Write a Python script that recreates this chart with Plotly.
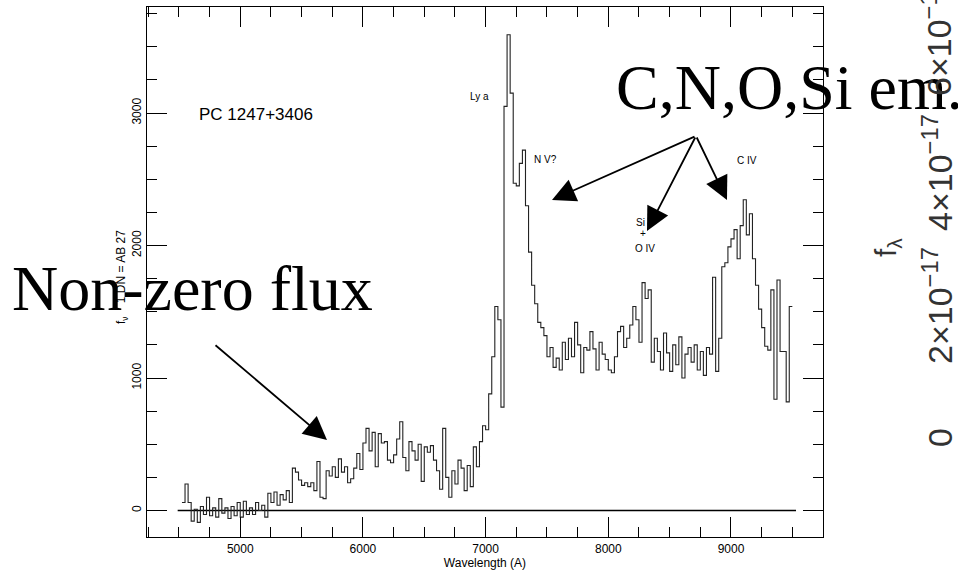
import plotly.graph_objects as go

# ---------------- data ----------------
bin_start = 4525          # left edge of first 25 A bin
bin_width = 25
flux = [
    60, 200, 60, -80, 10, -90, 30, -30, 100, -40,
    20, -50, 90, -20, 20, -60, 30, -40, 60, -50,
    70, -30, 20, -30, 60, 0, 40, -50, 130, 60,
    140, 40, 120, 80, 150, 60, 320, 290, 230, 190,
    210, 180, 210, 150, 370, 100, 90, 300, 260, 330,
    250, 390, 290, 330, 210, 240, 320, 430, 310, 510,
    620, 450, 590, 330, 580, 510, 520, 380, 360, 420,
    540, 670, 400, 300, 520, 450, 380, 500, 220, 480,
    440, 490, 380, 300, 160, 620, 250, 100, 300, 200,
    380, 320, 150, 340, 180, 480, 330, 520, 640, 610,
    880, 1160, 1540, 1440, 780, 3050, 3590, 3150, 2470, 2450,
    2620, 2720, 2300, 1950, 1700, 1560, 1420, 1380, 1320, 1160,
    1230, 1080, 1150, 1060, 1270, 1140, 1300, 1160, 1420, 1250,
    1040, 1230, 1210, 1350, 1220, 1060, 1270, 1180, 1140, 1060,
    1040, 1160, 1350, 1390, 1230, 1300, 1400, 1540, 1440, 1270,
    1720, 1600, 1665, 1120, 1300, 1200, 1060, 1340, 1190, 1050,
    1250, 1100, 1310, 1000, 1180, 1230, 1120, 1250, 1060, 1200,
    1020, 1230, 1180, 1760, 1050, 1300, 1840, 1870, 1990, 2050,
    2120, 1900, 2150, 2345, 2080, 2240, 1900, 1700, 1520, 1380,
    1240, 1210, 1665, 840, 1740, 1200, 1200, 820, 1540,
]
wavelength = [bin_start + bin_width * i for i in range(len(flux) + 1)]
flux_steps = flux + [flux[-1]]

zero_line_x = [4490, 9530]
zero_line_y = [0, 0]

x_range = [4240, 9750]
y_range = [-200, 3800]
x_ticks = [5000, 6000, 7000, 8000, 9000]
y_ticks = [0, 1000, 2000, 3000]

line_labels = ["Ly a", "N V?", "Si", "+", "O IV", "C IV"]
right_axis_labels = ["0", "2×10<sup>−17</sup>", "4×10<sup>−17</sup>", "6×10<sup>−17</sup>"]

# ---------------- figure ----------------
W, H = 958, 575
L, R, T, B = 147, 135, 7, 38
pw, ph = W - L - R, H - T - B


def px(xp):
    return (xp - L) / pw


def py(yp):
    return (H - B - yp) / ph


fig = go.Figure()
fig.add_trace(go.Scatter(x=zero_line_x, y=zero_line_y, mode="lines",
                         line=dict(color="black", width=1.3),
                         hoverinfo="skip", showlegend=False))
fig.add_trace(go.Scatter(x=wavelength, y=flux_steps, mode="lines",
                         line=dict(color="#222222", width=1.1, shape="hv"),
                         showlegend=False))

axis_common = dict(showgrid=False, zeroline=False, showline=True, linecolor="black",
                   linewidth=1.3, mirror="allticks", ticks="inside", ticklen=20,
                   tickwidth=1.2, tickcolor="black",
                   tickfont=dict(family="Liberation Sans", size=12, color="black"))

fig.update_xaxes(range=x_range, tickvals=x_ticks, **axis_common,
                 minor=dict(dtick=250, tick0=0, ticklen=10, ticks="inside",
                            tickwidth=1.2, tickcolor="black"),
                 title=dict(text="Wavelength (A)", standoff=2,
                            font=dict(family="Liberation Sans", size=12, color="black")))
fig.update_yaxes(range=y_range, tickvals=y_ticks, tickangle=-90, **axis_common,
                 minor=dict(dtick=250, tick0=0, ticklen=10, ticks="inside",
                            tickwidth=1.2, tickcolor="black"))

ann = []


def text_at(xp, yp, text, font, angle=0, xanchor="center"):
    ann.append(dict(x=px(xp), y=py(yp), xref="paper", yref="paper", text=text,
                    textangle=angle, showarrow=False, font=font,
                    xanchor=xanchor, yanchor="middle"))


small = dict(family="Liberation Sans", size=10, color="black")
# y axis title
text_at(122, 277, "f<sub>ν</sub>    1 DN = AB 27",
        dict(family="Liberation Sans", size=12, color="black"), angle=-90)
text_at(197, 115, "PC 1247+3406",
        dict(family="Liberation Sans", size=17, color="black"), xanchor="left")
label_pos = [(479, 97), (545, 159), (640, 222), (643, 233), (645, 248), (747, 160)]
for t, (xx, yy) in zip(line_labels, label_pos):
    text_at(xx, yy, t, small)

# big overlay texts
big = dict(family="Liberation Serif", size=64, color="black")
text_at(10, 288, "Non-zero flux", big, xanchor="left")
text_at(614, 88, "C,N,O,Si em.", big, xanchor="left")

# arrows (tip, tail) in pixels
arrows = [((327, 440), (214, 344)), ((552, 200), (696, 136)),
          ((647, 231), (696, 136)), ((727, 200), (696, 136))]
for (tx, ty), (sx, sy) in arrows:
    ann.append(dict(x=px(tx), y=py(ty), xref="paper", yref="paper", text="",
                    showarrow=True, ax=sx - tx, ay=sy - ty, arrowhead=2,
                    arrowsize=2.6, arrowwidth=1.8, arrowcolor="black"))

# right-hand rotated axis from an adjacent panel
rfont = dict(family="Liberation Sans", size=34, color="#333333")
text_at(887, 248, "f<sub>λ</sub>", dict(family="Liberation Sans", size=30, color="#333333"),
        angle=-90)
right_pos = [(940, 438), (937, 306), (937, 173), (937, 38)]
for t, (xx, yy) in zip(right_axis_labels, right_pos):
    text_at(xx, yy, t, rfont, angle=-90)

fig.update_layout(width=W, height=H, margin=dict(l=L, r=R, t=T, b=B),
                  paper_bgcolor="white", plot_bgcolor="white",
                  annotations=ann, showlegend=False)

fig.write_html("out.html", config={"displayModeBar": False},
               post_script="document.body.style.margin='0';")
